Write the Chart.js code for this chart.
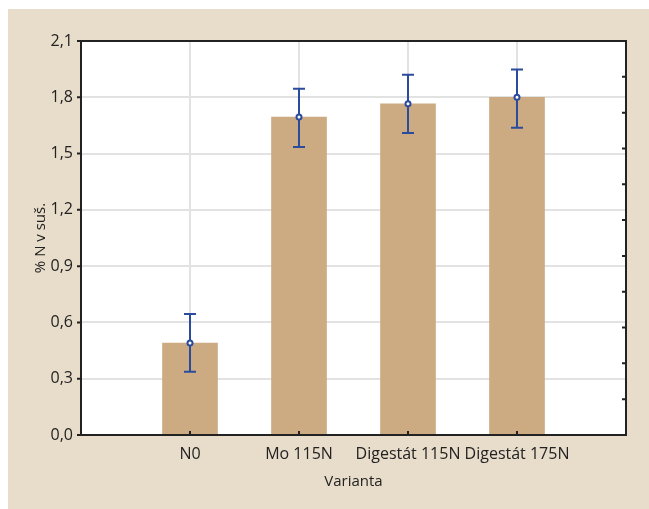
<!DOCTYPE html>
<html>
<head>
<meta charset="utf-8">
<script src="https://cdn.jsdelivr.net/npm/chart.js@4"></script>
<style>
  html, body { margin: 0; padding: 0; background: #fff; }
  #wrap { position: absolute; left: 8px; top: 9px; width: 641px; height: 500px; background: #e8dcca; }
</style>
</head>
<body>
<div id="wrap"><canvas id="myChart" width="641" height="500"></canvas></div>
<script>
// values
const categories = ['N0', 'Mo 115N', 'Digestát 115N', 'Digestát 175N'];
const means = [0.49, 1.695, 1.765, 1.80];
const upper = [0.645, 1.845, 1.92, 1.948];
const lower = [0.337, 1.535, 1.61, 1.637];

const yMin = 0;
const yMax = 2.1;
const yStep = 0.3;
const rightSteps = 11; // unlabelled ticks on the right frame

const FONT = "'Open Sans', sans-serif";
const INK = '#222222';
const BLUE = '#2b4c9c';

// empty slot at each end, like the original
const labels = [''].concat(categories, ['']);
const pad = (arr) => [null].concat(arr, [null]);

const frameAndTicks = {
    id: 'frameAndTicks',
    beforeDraw(chart) {
        const a = chart.chartArea;
        chart.ctx.save();
        chart.ctx.fillStyle = '#ffffff';
        chart.ctx.fillRect(a.left, a.top, a.right - a.left, a.bottom - a.top);
        chart.ctx.restore();
    },
    afterDatasetDraw(chart, args) {
        if (args.meta.type !== 'bar') return;
        // error whiskers
        const x = chart.scales.x, y = chart.scales.y;
        const ctx = chart.ctx;
        ctx.save();
        ctx.strokeStyle = BLUE;
        ctx.lineWidth = 2;
        for (let i = 0; i < categories.length; i++) {
            const px = x.getPixelForValue(i + 1);
            const yt = y.getPixelForValue(upper[i]);
            const yb = y.getPixelForValue(lower[i]);
            ctx.beginPath();
            ctx.moveTo(px, yt); ctx.lineTo(px, yb);
            ctx.moveTo(px - 6, yt); ctx.lineTo(px + 6, yt);
            ctx.moveTo(px - 6, yb); ctx.lineTo(px + 6, yb);
            ctx.stroke();
        }
        ctx.restore();
    },
    afterDraw(chart) {
        const a = chart.chartArea;
        const ctx = chart.ctx;
        const x = chart.scales.x, y = chart.scales.y, y2 = chart.scales.y2;
        ctx.save();
        ctx.strokeStyle = INK;
        ctx.lineWidth = 2;
        ctx.strokeRect(a.left, a.top, a.right - a.left, a.bottom - a.top);
        ctx.beginPath();
        // left major ticks, outward
        y.ticks.forEach(t => {
            const py = y.getPixelForValue(t.value);
            ctx.moveTo(a.left - 4, py); ctx.lineTo(a.left, py);
        });
        // bottom ticks, inward
        for (let i = 0; i < categories.length; i++) {
            const px = x.getPixelForValue(i + 1);
            ctx.moveTo(px, a.bottom); ctx.lineTo(px, a.bottom - 4);
        }
        // right ticks, inward
        y2.ticks.forEach(t => {
            const py = y2.getPixelForValue(t.value);
            ctx.moveTo(a.right, py); ctx.lineTo(a.right - 4, py);
        });
        ctx.stroke();
        ctx.restore();
    }
};

const ctx = document.getElementById('myChart').getContext('2d');
const myChart = new Chart(ctx, {
    type: 'bar',
    data: {
        labels: labels,
        datasets: [{
                type: 'bar',
                label: 'mean',
                data: pad(means),
                backgroundColor: '#ccab82',
                borderWidth: 0,
                barThickness: 55,
                order: 2
            },
            {
                type: 'line',
                label: 'marker',
                data: pad(means),
                showLine: false,
                pointStyle: 'circle',
                pointRadius: 2.5,
                pointBorderWidth: 2,
                pointBorderColor: BLUE,
                pointBackgroundColor: '#ffffff',
                order: 1
            }
        ]
    },
    options: {
        responsive: false,
        animation: false,
        layout: { padding: { left: 20, top: 32, right: 23, bottom: 14 } },
        plugins: { legend: { display: false }, tooltip: { enabled: false } },
        scales: {
            x: {
                offset: false,
                grid: { color: '#e2e2e2', lineWidth: 2, drawTicks: false, offset: false },
                border: { display: false },
                ticks: { color: INK, font: { family: FONT, size: 16 }, padding: 10, maxRotation: 0, autoSkip: false },
                title: { display: true, text: 'Varianta', color: INK, font: { family: FONT, size: 15 }, padding: { top: 6 } },
                afterFit(s) { s.height = 60; }
            },
            y: {
                min: yMin,
                max: yMax,
                ticks: {
                    stepSize: yStep,
                    color: INK,
                    font: { family: FONT, size: 16 },
                    padding: 8,
                    callback: (v) => v.toFixed(1).replace('.', ',')
                },
                grid: { color: '#e2e2e2', lineWidth: 2, drawTicks: false },
                border: { display: false },
                title: { display: true, text: '% N v suš.', color: INK, font: { family: FONT, size: 15 }, padding: { bottom: 4 } },
                afterFit(s) { s.width = 53; }
            },
            y2: {
                position: 'right',
                min: 0,
                max: rightSteps,
                ticks: { stepSize: 1, display: false },
                grid: { drawOnChartArea: false, drawTicks: false },
                border: { display: false },
                afterFit(s) { s.width = 0; }
            }
        }
    },
    plugins: [frameAndTicks]
});
</script>
</body>
</html>
